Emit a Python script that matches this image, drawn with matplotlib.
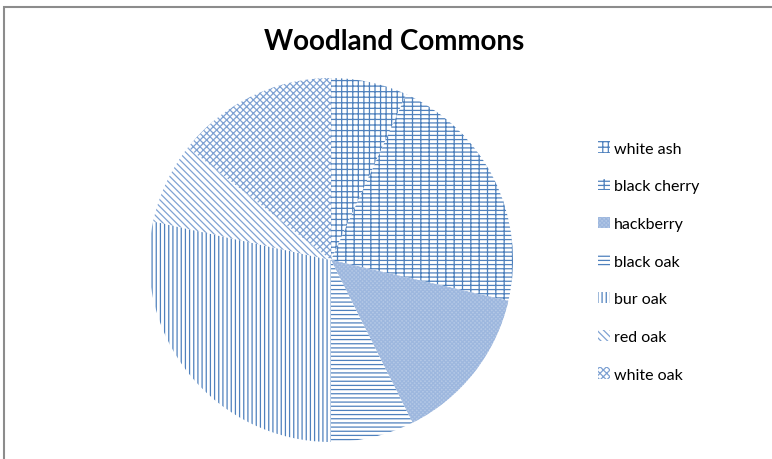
import matplotlib
matplotlib.use("Agg")
import matplotlib.pyplot as plt
from matplotlib.patches import Patch, Rectangle

# values (percent of the total, clockwise from 12 o'clock)
species = ["white ash", "black cherry", "hackberry", "black oak", "bur oak", "red oak", "white oak"]
shares = [6.8, 21.8, 14.0, 7.4, 28.4, 7.2, 14.4]

blue = "#4f81bd"
hatches = ["+++", "----||", "xxxxxxxx", "----", "||||", "\\\\\\\\\\", "xxxxx"]
faces = ["white", "white", "#b4c8e6", "white", "white", "white", "white"]
edges = [blue, blue, "#9db7de", blue, blue, "#7fa2d3", "#7fa2d3"]

plt.rcParams["font.family"] = ["Lato", "DejaVu Sans"]
plt.rcParams["hatch.linewidth"] = 0.9

fig = plt.figure(figsize=(7.72, 4.6), dpi=100)
# thin grey chart frame (top-left corner visible, rest runs off the image)
fig.patches.append(Rectangle((4 / 772, -0.1), 1.2, (460 - 8) / 460 + 0.1, transform=fig.transFigure,
                             fill=False, edgecolor="#8c8c8c", linewidth=1.5))

cx, cy, r = 331, 261, 182
ax = fig.add_axes([(cx - r) / 772, (460 - cy - r) / 460, 2 * r / 772, 2 * r / 460])
wedges, _ = ax.pie(shares, startangle=90, counterclock=False, radius=1,
                   wedgeprops=dict(linewidth=0))
for w, h, fc, ec in zip(wedges, hatches, faces, edges):
    w.set_facecolor(fc)
    w.set_edgecolor(ec)
    w.set_hatch(h)
ax.set_xlim(-1, 1)
ax.set_ylim(-1, 1)
ax.set_aspect("equal")
ax.axis("off")

fig.text(394 / 772, 1 - 42 / 460, "Woodland Commons", ha="center", va="center",
         fontsize=20, fontweight="bold")

handles = [Patch(facecolor=fc, edgecolor=ec, hatch=h, linewidth=0)
           for h, fc, ec in zip(hatches, faces, edges)]
fig.legend(handles, species, loc="upper left", bbox_to_anchor=(584 / 772, 1 - 128 / 460),
           frameon=False, fontsize=11.5, handlelength=0.7, handleheight=0.7,
           handletextpad=0.3, labelspacing=1.47)

fig.savefig("out.png", dpi=100)
